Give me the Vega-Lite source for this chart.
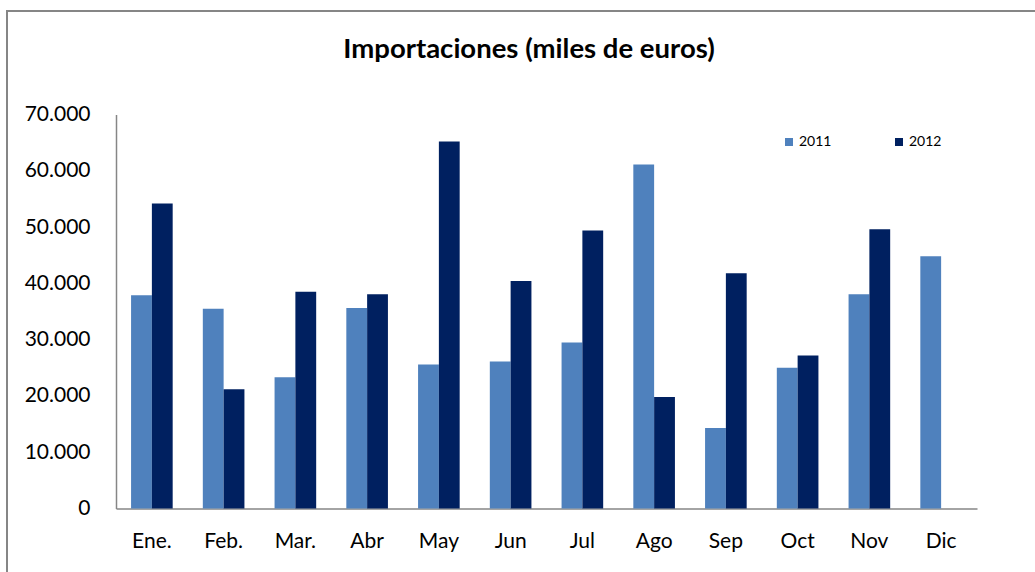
{
  "$schema": "https://vega.github.io/schema/vega-lite/v6.json",
  "width": 1044,
  "height": 570,
  "autosize": {"type": "none"},
  "padding": {"left": 7, "top": 11, "right": 0, "bottom": 0},
  "background": "white",
  "title": {
    "text": "Importaciones (miles de euros)",
    "font": "Lato",
    "fontSize": 27.5,
    "fontWeight": "bold",
    "color": "black",
    "anchor": "middle",
    "frame": "group",
    "baseline": "middle",
    "offset": -66
  },
  "data": {
    "values": [
      {"mes": "Ene.", "year": "2011", "valor": 37900},
      {"mes": "Ene.", "year": "2012", "valor": 54200},
      {"mes": "Feb.", "year": "2011", "valor": 35500},
      {"mes": "Feb.", "year": "2012", "valor": 21200},
      {"mes": "Mar.", "year": "2011", "valor": 23300},
      {"mes": "Mar.", "year": "2012", "valor": 38500},
      {"mes": "Abr", "year": "2011", "valor": 35600},
      {"mes": "Abr", "year": "2012", "valor": 38050},
      {"mes": "May", "year": "2011", "valor": 25600},
      {"mes": "May", "year": "2012", "valor": 65200},
      {"mes": "Jun", "year": "2011", "valor": 26100},
      {"mes": "Jun", "year": "2012", "valor": 40400},
      {"mes": "Jul", "year": "2011", "valor": 29500},
      {"mes": "Jul", "year": "2012", "valor": 49400},
      {"mes": "Ago", "year": "2011", "valor": 61100},
      {"mes": "Ago", "year": "2012", "valor": 19800},
      {"mes": "Sep", "year": "2011", "valor": 14300},
      {"mes": "Sep", "year": "2012", "valor": 41800},
      {"mes": "Oct", "year": "2011", "valor": 25000},
      {"mes": "Oct", "year": "2012", "valor": 27200},
      {"mes": "Nov", "year": "2011", "valor": 38050},
      {"mes": "Nov", "year": "2012", "valor": 49600},
      {"mes": "Dic", "year": "2011", "valor": 44800}
    ]
  },
  "mark": {"type": "bar"},
  "encoding": {
    "x": {
      "field": "mes",
      "type": "nominal",
      "sort": ["Ene.", "Feb.", "Mar.", "Abr", "May", "Jun", "Jul", "Ago", "Sep", "Oct", "Nov", "Dic"],
      "scale": {"range": [109, 970], "paddingInner": 0.42, "paddingOuter": 0.21},
      "axis": {
        "title": null,
        "offset": -72.5,
        "ticks": false,
        "grid": false,
        "labelAngle": 0,
        "labelFont": "Lato",
        "labelFontSize": 21,
        "labelColor": "black",
        "labelBaseline": "middle",
        "labelPadding": 33,
        "domainColor": "#868686",
        "domainWidth": 1.5
      }
    },
    "xOffset": {"field": "year", "type": "nominal", "sort": ["2011", "2012"]},
    "y": {
      "field": "valor",
      "type": "quantitative",
      "scale": {"domain": [0, 70000], "range": [497.5, 103.5], "nice": false, "zero": true},
      "axis": {
        "title": null,
        "offset": -109,
        "ticks": false,
        "grid": false,
        "values": [0, 10000, 20000, 30000, 40000, 50000, 60000, 70000],
        "labelExpr": "replace(format(datum.value, ','), ',', '.')",
        "labelFont": "Lato",
        "labelFontSize": 21,
        "labelColor": "black",
        "labelPadding": 26,
        "domainColor": "#868686",
        "domainWidth": 1.5
      }
    },
    "color": {
      "field": "year",
      "type": "nominal",
      "scale": {"domain": ["2011", "2012"], "range": ["#4F81BD", "#002060"]},
      "legend": {
        "orient": "none",
        "legendX": 775,
        "legendY": 124,
        "direction": "horizontal",
        "title": null,
        "symbolType": "square",
        "symbolSize": 64,
        "symbolStrokeWidth": 0,
        "labelFont": "Lato",
        "labelFontSize": 14,
        "labelColor": "black",
        "labelOffset": 3,
        "columnPadding": 60,
        "padding": 0
      }
    }
  },
  "config": {
    "view": {"stroke": "#868686", "strokeWidth": 2}
  }
}
